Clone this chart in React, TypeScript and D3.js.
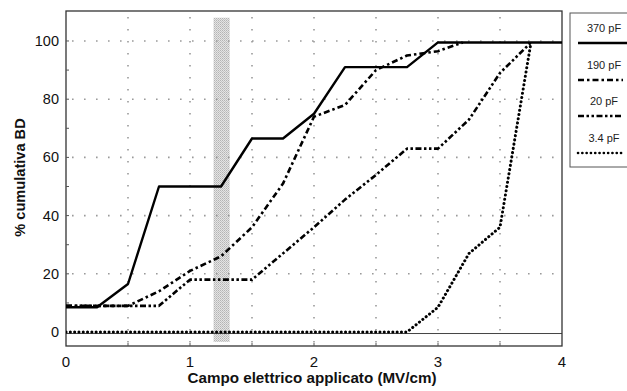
import React from "react";
import * as d3 from "d3";

// Cumulative breakdown (%) vs applied field (MV/cm) for four capacitor sizes
const field370 = [0, 0.25, 0.5, 0.75, 1.25, 1.5, 1.75, 2.0, 2.25, 2.75, 3.0, 4.0];
const bd370 = [8.5, 8.5, 16.5, 50, 50, 66.5, 66.5, 75, 91, 91, 99.5, 99.5];

const field190 = [0, 0.5, 0.75, 1.0, 1.25, 1.5, 1.75, 2.0, 2.25, 2.5, 2.75, 3.0, 3.2];
const bd190 = [9, 9, 14, 21, 26, 36, 51, 74, 78, 90, 95, 96.5, 99.5];

const field20 = [0, 0.75, 1.0, 1.5, 2.0, 2.25, 2.5, 2.75, 3.0, 3.25, 3.5, 3.75];
const bd20 = [9, 9, 18, 18, 36, 45.5, 54, 63, 63, 73, 89, 99.5];

const field3p4 = [0, 2.75, 3.0, 3.25, 3.5, 3.75];
const bd3p4 = [0, 0, 8.5, 27, 36, 99.5];

const xTicks = [0, 1, 2, 3, 4];
const yTicks = [0, 20, 40, 60, 80, 100];
const legendLabels = ["370 pF", "190 pF", "20 pF", "3.4 pF"];

const W = 627;
const H = 391;

export default function App() {
  const x = d3.scaleLinear().domain([0, 4]).range([66, 562]);
  const y = d3.scaleLinear().domain([-4.8, 110.3]).range([346, 11]);

  const line = d3
    .line<[number, number]>()
    .x((d) => x(d[0]))
    .y((d) => y(d[1]));

  const zip = (a: number[], b: number[]) => a.map((v, i) => [v, b[i]] as [number, number]);

  const series = [
    { pts: zip(field370, bd370), dash: undefined as string | undefined, cap: "butt", w: 2.4 },
    { pts: zip(field190, bd190), dash: "6 3 2.5 3", cap: "butt", w: 2.6 },
    { pts: zip(field20, bd20), dash: "6 2.5 2.5 2.5 2.5 2.5", cap: "butt", w: 2.6 },
    { pts: zip(field3p4, bd3p4), dash: "0.1 4.2", cap: "round", w: 3 },
  ];

  const xLeft = x(0);
  const xRight = x(4);
  const yTop = y(110.3);
  const yBot = y(-4.8);

  const gridX = d3.range(0.5, 4, 0.5);
  const gridY = [20, 40, 60, 80, 100];
  const minorX = d3.range(0.5, 4, 0.5);
  const minorY = d3.range(10, 110, 10);

  const font = "'Liberation Sans', Arial, Helvetica, sans-serif";

  const legendRows = [28, 65, 101, 138];
  const legendLineOffset = 15;

  return (
    <svg width={W} height={H} style={{ position: "absolute", left: 0, top: 0, background: "#fff" }}>
      <defs>
        <pattern id="stipple" width="2" height="2" patternUnits="userSpaceOnUse">
          <rect width="2" height="2" fill="#e4e4e4" />
          <rect width="1" height="1" fill="#b4b4b4" />
          <rect x="1" y="1" width="1" height="1" fill="#c4c4c4" />
        </pattern>
        <clipPath id="plotClip">
          <rect x={xLeft} y={yTop} width={xRight - xLeft + 3} height={yBot - yTop} />
        </clipPath>
      </defs>

      {/* shaded field window */}
      <rect x={x(1.19)} y={y(108)} width={x(1.32) - x(1.19)} height={y(-3.4) - y(108)} fill="url(#stipple)" />

      {/* dotted grid */}
      <g stroke="#9a9a9a" strokeWidth={1.6} strokeDasharray="1.6 10.4">
        {gridX.map((g) => (
          <line key={"gx" + g} x1={x(g)} x2={x(g)} y1={yTop + 6} y2={yBot} />
        ))}
        {gridY.map((g) => (
          <line key={"gy" + g} x1={xLeft + 6} x2={xRight} y1={y(g)} y2={y(g)} />
        ))}
      </g>

      {/* zero reference */}
      <line x1={xLeft} x2={xRight} y1={y(0) + 1.5} y2={y(0) + 1.5} stroke="#444" strokeWidth={1} />

      {/* frame */}
      <rect x={xLeft} y={yTop} width={xRight - xLeft} height={yBot - yTop} fill="none" stroke="#333" strokeWidth={1.3} />

      {/* inner ticks */}
      <g stroke="#555" strokeWidth={1}>
        {minorY.map((t) => (
          <line key={"ty" + t} x1={xLeft} x2={xLeft + 3} y1={y(t)} y2={y(t)} />
        ))}
        {minorX.map((t) => (
          <line key={"tx" + t} x1={x(t)} x2={x(t)} y1={yBot} y2={yBot - 3} />
        ))}
      </g>

      {/* series */}
      <g clipPath="url(#plotClip)">
        {series.map((s, i) => (
          <path
            key={i}
            d={line(s.pts) || ""}
            fill="none"
            stroke="#000"
            strokeWidth={s.w}
            strokeDasharray={s.dash}
            strokeLinecap={s.cap as any}
            strokeLinejoin="round"
          />
        ))}
      </g>

      {/* tick labels */}
      <g fontFamily={font} fill="#111">
        {yTicks.map((t) => (
          <text key={"yl" + t} x={xLeft - 7} y={y(t)} fontSize={14.5} textAnchor="end" dominantBaseline="central">
            {t}
          </text>
        ))}
        {xTicks.map((t) => (
          <text key={"xl" + t} x={x(t)} y={yBot + 15} fontSize={15} textAnchor="middle" dominantBaseline="central">
            {t}
          </text>
        ))}
      </g>

      {/* axis titles */}
      <text
        x={312}
        y={383}
        textAnchor="middle"
        fontFamily={font}
        fontWeight="bold"
        fontSize={15.2}
        fill="#111"
      >
        Campo elettrico applicato (MV/cm)
      </text>
      <text
        transform={`translate(25, 177.5) rotate(-90)`}
        textAnchor="middle"
        fontFamily={font}
        fontWeight="bold"
        fontSize={14.6}
        fill="#111"
      >
        % cumulativa BD
      </text>

      {/* legend */}
      <rect x={570} y={13} width={70} height={154} fill="#fff" stroke="#555" strokeWidth={1} />
      {legendLabels.map((lab, i) => (
        <g key={lab}>
          <text
            x={604}
            y={legendRows[i]}
            textAnchor="middle"
            dominantBaseline="central"
            fontFamily={font}
            fontSize={11}
            fill="#222"
          >
            {lab}
          </text>
          <line
            x1={578}
            x2={i === 0 ? 627 : 623}
            y1={legendRows[i] + legendLineOffset}
            y2={legendRows[i] + legendLineOffset}
            stroke="#000"
            strokeWidth={i === 0 ? 2.4 : 2.6}
            strokeDasharray={series[i].dash}
            strokeLinecap={series[i].cap as any}
          />
        </g>
      ))}
    </svg>
  );
}
